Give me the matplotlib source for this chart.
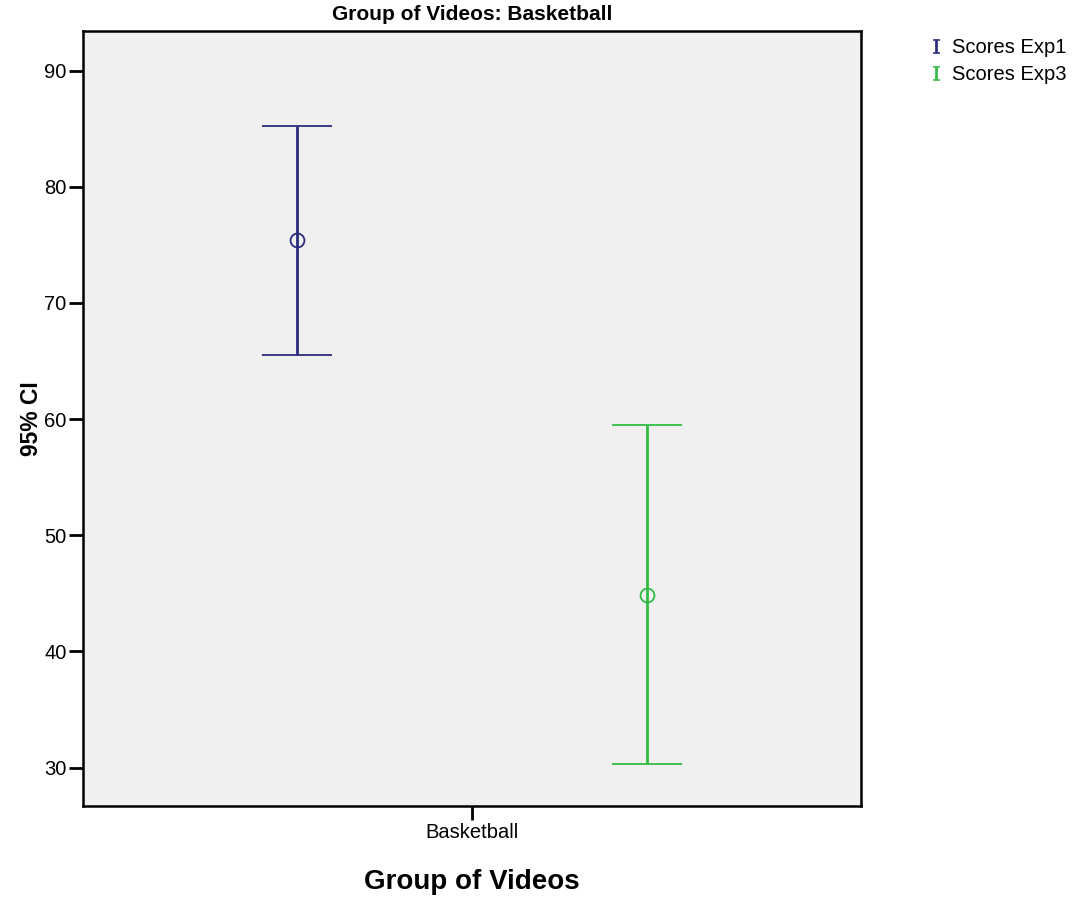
import numpy as np
import matplotlib
matplotlib.use("Agg")
import matplotlib.pyplot as plt
from matplotlib.lines import Line2D

plt.rcParams['font.family'] = ['Liberation Sans', 'DejaVu Sans']
plt.rcParams['mathtext.fontset'] = 'dejavuserif'

# data
series = ['Scores Exp1', 'Scores Exp3']
means = [75.4, 44.9]
upper = [85.2, 59.5]
lower = [65.5, 30.3]
colors = ['#2b2b80', '#33bb44']
offsets = [-0.45, 0.45]
category = 'Basketball'

fig = plt.figure(figsize=(10.73, 9.02), dpi=100)
ax = fig.add_axes([0.0774, 0.1064, 0.725, 0.8592])
ax.set_facecolor('#f0f0f0')

for i in range(len(series)):
    yerr = [[means[i] - lower[i]], [upper[i] - means[i]]]
    ax.errorbar([offsets[i]], [means[i]], yerr=yerr, fmt='o', mfc='none',
                mec=colors[i], ms=10, mew=1.3, ecolor=colors[i],
                elinewidth=2, capsize=25, capthick=2)

ax.set_xlim(-1, 1)
ax.set_ylim(26.7, 93.4)
ax.set_xticks([0])
ax.set_xticklabels([category])
ax.set_yticks([30, 40, 50, 60, 70, 80, 90])
ax.tick_params(direction='out', length=10, width=2, labelsize=14.5, pad=2)
for s in ax.spines.values():
    s.set_linewidth(1.8)

ax.set_title('Group of Videos: Basketball', fontsize=15, fontweight='bold', pad=8)
ax.set_ylabel('95% CI', fontsize=16.5, fontweight='bold', labelpad=1)
ax.set_xlabel('Group of Videos', fontsize=20, fontweight='bold', labelpad=20)

# serif "I" glyph for the legend keys
handles = [Line2D([], [], ls='none', marker=r'$\mathrm{I}$', color=c, ms=10,
                  mew=0.5) for c in colors]
fig.legend(handles, series, loc='upper left', bbox_to_anchor=(0.857, 0.969),
           frameon=False, fontsize=14.5, handlelength=0.6, handletextpad=0.5,
           labelspacing=0.38, borderpad=0)

fig.savefig('out.png', dpi=100)
